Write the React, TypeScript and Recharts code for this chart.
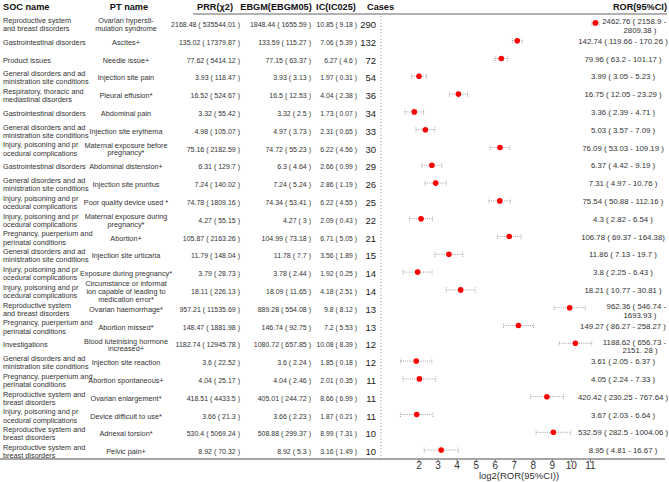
import React from 'react';
import { ScatterChart, Scatter, XAxis, YAxis, ErrorBar, ReferenceLine } from 'recharts';

const FONT = '"Liberation Sans", Arial, Helvetica, sans-serif';

const headers = ['SOC name', 'PT name', 'PRR(\u03c72)', 'EBGM(EBGM05)', 'IC(IC025)', 'Cases', 'ROR(95%CI)'];

const GEN = ['General disorders and ad', 'ministration site conditions'];
const INJ = ['Injury, poisoning and pr', 'ocedural complications'];
const PREG = ['Pregnancy, puerperium and', 'perinatal conditions'];
const GAST = ['Gastrointestinal disorders'];

const socNames: string[][] = [
  ['Reproductive system', 'and breast disorders'],
  GAST,
  ['Product issues'],
  GEN,
  ['Respiratory, thoracic and', 'mediastinal disorders'],
  GAST,
  GEN,
  INJ,
  GAST,
  GEN,
  INJ,
  INJ,
  PREG,
  GEN,
  INJ,
  INJ,
  ['Reproductive system', 'and breast disorders'],
  PREG,
  ['Investigations'],
  GEN,
  PREG,
  ['Reproductive system and', 'breast disorders'],
  INJ,
  ['Reproductive system and', 'breast disorders'],
  ['Reproductive system and', 'breast disorders'],
];

const ptNames: string[][] = [
  ['Ovarian hypersti-', 'mulation syndrome'],
  ['Ascites+'],
  ['Needle issue+'],
  ['Injection site pain'],
  ['Pleural effusion*'],
  ['Abdominal pain'],
  ['Injection site erythema'],
  ['Maternal exposure before', 'pregnancy*'],
  ['Abdominal distension+'],
  ['Injection site pruritus'],
  ['Poor quality device used *'],
  ['Maternal exposure during', 'pregnancy*'],
  ['Abortion+'],
  ['Injection site urticaria'],
  ['Exposure during pregnancy*'],
  ['Circumstance or informat', 'ion capable of leading to', 'medication error*'],
  ['Ovarian haemorrhage*'],
  ['Abortion missed*'],
  ['Blood luteinising hormone', 'increased+'],
  ['Injection site reaction'],
  ['Abortion spontaneous+'],
  ['Ovarian enlargement*'],
  ['Device difficult to use*'],
  ['Adnexal torsion*'],
  ['Pelvic pain+'],
];

const prrLabels = [
  '2168.48 ( 535544.01 )', '135.02 ( 17379.87 )', '77.62 ( 5414.12 )', '3.93 ( 118.47 )',
  '16.52 ( 524.67 )', '3.32 ( 55.42 )', '4.98 ( 105.07 )', '75.16 ( 2182.59 )',
  '6.31 ( 129.7 )', '7.24 ( 140.02 )', '74.78 ( 1809.16 )', '4.27 ( 55.15 )',
  '105.87 ( 2163.26 )', '11.79 ( 148.04 )', '3.79 ( 28.73 )', '18.11 ( 226.13 )',
  '957.21 ( 11535.69 )', '148.47 ( 1881.98 )', '1182.74 ( 12945.78 )', '3.6 ( 22.52 )',
  '4.04 ( 25.17 )', '418.51 ( 4433.5 )', '3.66 ( 21.3 )', '530.4 ( 5069.24 )', '8.92 ( 70.32 )',
];

const ebgmLabels = [
  '1848.44 ( 1655.59 )', '133.59 ( 115.27 )', '77.15 ( 63.37 )', '3.93 ( 3.13 )',
  '16.5 ( 12.53 )', '3.32 ( 2.5 )', '4.97 ( 3.73 )', '74.72 ( 55.23 )',
  '6.3 ( 4.64 )', '7.24 ( 5.24 )', '74.34 ( 53.41 )', '4.27 ( 3 )',
  '104.99 ( 73.18 )', '11.78 ( 7.7 )', '3.78 ( 2.44 )', '18.09 ( 11.65 )',
  '889.28 ( 554.08 )', '146.74 ( 92.75 )', '1080.72 ( 657.85 )', '3.6 ( 2.24 )',
  '4.04 ( 2.46 )', '405.01 ( 244.72 )', '3.66 ( 2.23 )', '508.88 ( 299.37 )', '8.92 ( 5.3 )',
];

const icLabels = [
  '10.85 ( 9.18 )', '7.06 ( 5.39 )', '6.27 ( 4.6 )', '1.97 ( 0.31 )',
  '4.04 ( 2.38 )', '1.73 ( 0.07 )', '2.31 ( 0.65 )', '6.22 ( 4.56 )',
  '2.66 ( 0.99 )', '2.86 ( 1.19 )', '6.22 ( 4.55 )', '2.09 ( 0.43 )',
  '6.71 ( 5.05 )', '3.56 ( 1.89 )', '1.92 ( 0.25 )', '4.18 ( 2.51 )',
  '9.8 ( 8.12 )', '7.2 ( 5.53 )', '10.08 ( 8.39 )', '1.85 ( 0.18 )',
  '2.01 ( 0.35 )', '8.66 ( 6.99 )', '1.87 ( 0.21 )', '8.99 ( 7.31 )', '3.16 ( 1.49 )',
];

const cases = [290, 132, 72, 54, 36, 34, 33, 30, 29, 26, 25, 22, 21, 15, 14, 14, 13, 13, 12, 12, 11, 11, 11, 10, 10];

const ror = [2462.76, 142.74, 79.96, 3.99, 16.75, 3.36, 5.03, 76.09, 6.37, 7.31, 75.54, 4.3, 106.78, 11.86, 3.8, 18.21, 962.36, 149.27, 1188.62, 3.61, 4.05, 420.42, 3.67, 532.59, 8.95];
const rorLow = [2158.9, 119.66, 63.2, 3.05, 12.05, 2.39, 3.57, 53.03, 4.42, 4.97, 50.88, 2.82, 69.37, 7.13, 2.25, 10.77, 546.74, 86.27, 656.73, 2.05, 2.24, 230.25, 2.03, 282.5, 4.81];
const rorHigh = [2809.38, 170.26, 101.17, 5.23, 23.29, 4.71, 7.09, 109.19, 9.19, 10.76, 112.16, 6.54, 164.38, 19.7, 6.43, 30.81, 1693.93, 258.27, 2151.28, 6.37, 7.33, 767.64, 6.64, 1004.06, 16.67];

const rorLabels: string[][] = [
  ['2462.76 ( 2158.9 -', '2809.38 )'],
  ['142.74 ( 119.66 - 170.26 )'],
  ['79.96 ( 63.2 - 101.17 )'],
  ['3.99 ( 3.05 - 5.23 )'],
  ['16.75 ( 12.05 - 23.29 )'],
  ['3.36 ( 2.39 - 4.71 )'],
  ['5.03 ( 3.57 - 7.09 )'],
  ['76.09 ( 53.03 - 109.19 )'],
  ['6.37 ( 4.42 - 9.19 )'],
  ['7.31 ( 4.97 - 10.76 )'],
  ['75.54 ( 50.88 - 112.16 )'],
  ['4.3 ( 2.82 - 6.54 )'],
  ['106.78 ( 69.37 - 164.38)'],
  ['11.86 ( 7.13 - 19.7 )'],
  ['3.8 ( 2.25 - 6.43 )'],
  ['18.21 ( 10.77 - 30.81 )'],
  ['962.36 ( 546.74 -', '1693.93 )'],
  ['149.27 ( 86.27 - 258.27 )'],
  ['1188.62 ( 656.73 -', '2151. 28 )'],
  ['3.61 ( 2.05 - 6.37 )'],
  ['4.05 ( 2.24 - 7.33 )'],
  ['420.42 ( 230.25 - 767.64 )'],
  ['3.67 ( 2.03 - 6.64 )'],
  ['532.59 ( 282.5 - 1004.06 )'],
  ['8.95 ( 4.81 - 16.67 )'],
];

const xTicks = [2, 3, 4, 5, 6, 7, 8, 9, 10, 11];
const rowTicks = cases.map((_, i) => i + 1);

const points = ror.map((v, i) => {
  const x = Math.log2(v);
  return { x, y: i + 1, err: [x - Math.log2(rorLow[i]), Math.log2(rorHigh[i]) - x] };
});

const TXT = '#333';

function Lines({ lines, x, y, anchor, size, lh, fill = TXT }: any) {
  const start = y - ((lines.length - 1) * lh) / 2;
  return (
    <text textAnchor={anchor} fontSize={size} fill={fill} fontFamily={FONT} dominantBaseline="central">
      {lines.map((l: string, k: number) => (
        <tspan key={k} x={x} y={start + k * lh}>{l}</tspan>
      ))}
    </text>
  );
}

// every table cell of a row hangs off the y scale of the row axis
function RowTick(props: any) {
  const { y, payload } = props;
  const i = payload.value - 1;
  if (i < 0 || i >= cases.length) return null;
  const ty = y + 1;
  const rl = rorLabels[i];
  return (
    <g>
      <Lines lines={socNames[i]} x={3} y={ty} anchor="start" size={7.3} lh={8.2} />
      <Lines lines={ptNames[i]} x={126} y={ty} anchor="middle" size={7.3} lh={7.6} />
      <Lines lines={[prrLabels[i]]} x={240} y={ty} anchor="end" size={7} lh={8} />
      <Lines lines={[ebgmLabels[i]]} x={311} y={ty} anchor="end" size={7} lh={8} />
      <Lines lines={[icLabels[i]]} x={357} y={ty} anchor="end" size={6.8} lh={8} />
      <Lines lines={[String(cases[i])]} x={376} y={ty} anchor="end" size={9.5} lh={10} fill="#222" />
      {rl.length === 1 ? (
        <Lines lines={rl} x={623} y={y} anchor="middle" size={7.8} lh={8} />
      ) : (
        <g>
          <Lines lines={[rl[0]]} x={666} y={y - 1.5} anchor="end" size={7.8} lh={8} />
          <Lines lines={[rl[1]]} x={640} y={y + 7} anchor="middle" size={7.8} lh={8} />
        </g>
      )}
    </g>
  );
}

const Dot = (p: any) => <circle cx={p.cx} cy={p.cy} r={2.8} fill="#ff0000" />;

export default function App() {
  return (
    <div style={{ position: 'relative', width: 669, height: 482, background: '#fff' }}>
      <style>{'body{margin:0}'}</style>
      <ScatterChart width={669} height={482} margin={{ top: 14, right: 12, bottom: 0, left: 0 }}>
        <XAxis
          type="number"
          dataKey="x"
          domain={[0, 14.5]}
          ticks={xTicks}
          interval={0}
          allowDataOverflow
          height={23}
          axisLine={false}
          tickLine={{ stroke: '#666' }}
          tickSize={3}
          tickMargin={0}
          tick={{ fontSize: 10, fill: TXT, fontFamily: FONT }}
          label={{ value: 'log2(ROR(95%CI))', position: 'insideBottom', offset: 3, fontSize: 9.5, fill: TXT, fontFamily: FONT }}
        />
        <YAxis
          type="number"
          dataKey="y"
          domain={[0.5, 25.5]}
          reversed
          ticks={rowTicks}
          interval={0}
          width={381}
          axisLine={false}
          tickLine={false}
          tick={<RowTick />}
        />
        <ReferenceLine x={0} stroke="#999" strokeDasharray="1.2 2" />
        <Scatter data={points} isAnimationActive={false} shape={Dot}>
          <ErrorBar dataKey="err" direction="x" width={2.5} stroke="#888" strokeWidth={0.8} strokeDasharray="1 1.2" />
        </Scatter>
      </ScatterChart>
      <svg width={669} height={482} style={{ position: 'absolute', left: 0, top: 0, pointerEvents: 'none' }}>
        <line x1={193} x2={667} y1={14} y2={14} stroke="#999" strokeWidth={1.3} />
        <line x1={0} x2={665} y1={459} y2={459} stroke="#888" strokeWidth={1.3} />
        <g fontFamily={FONT} fontWeight="bold" fontSize={9.2} fill="#111">
          <text x={3} y={9.5} textAnchor="start">{headers[0]}</text>
          <text x={129} y={9.5} textAnchor="middle">{headers[1]}</text>
          <text x={215} y={9.5} textAnchor="middle">{headers[2]}</text>
          <text x={276} y={9.5} textAnchor="middle">{headers[3]}</text>
          <text x={336} y={9.5} textAnchor="middle">{headers[4]}</text>
          <text x={367} y={9.5} textAnchor="start">{headers[5]}</text>
          <text x={667} y={9.5} textAnchor="end">{headers[6]}</text>
        </g>
      </svg>
    </div>
  );
}
